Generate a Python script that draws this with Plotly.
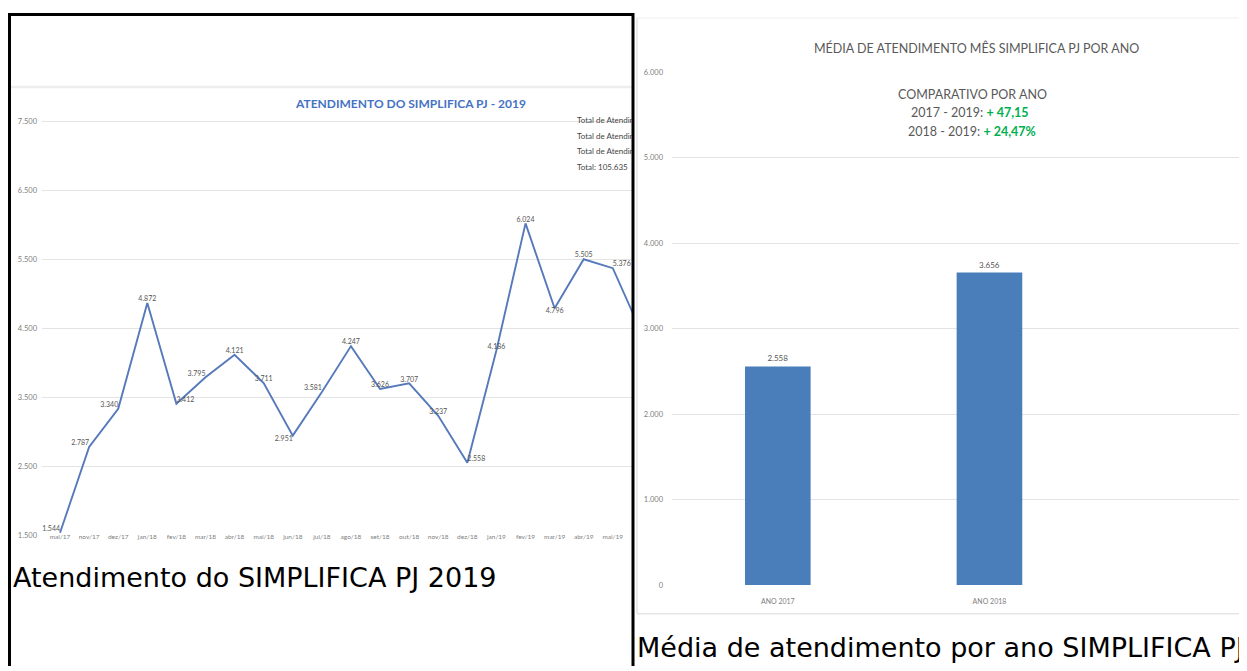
import plotly.graph_objects as go

# ---------------- data ----------------
meses = ["mai/17", "nov/17", "dez/17", "jan/18", "fev/18", "mar/18", "abr/18",
         "mai/18", "jun/18", "jul/18", "ago/18", "set/18", "out/18", "nov/18",
         "dez/18", "jan/19", "fev/19", "mar/19", "abr/19", "mai/19", "jun/19"]
atendimentos = [1544, 2787, 3340, 4872, 3412, 3795, 4121, 3711, 2951, 3581,
                4247, 3626, 3707, 3237, 2558, 4186, 6024, 4796, 5505, 5376, 4430]
posicao_rotulo = ["top left", "top left", "top left", "top center", "top right",
                  "top left", "top center", "top center", "bottom left", "top left",
                  "top center", "top center", "top center", "top center", "top right",
                  "top center", "top center", "bottom center", "top center", "top right",
                  "top center"]
# the last month lies beyond the cut-off edge of the picture: no visible label
modelo_rotulo = ["%{y:,.0f}"] * 20 + [""]
left_yticks = [1500, 2500, 3500, 4500, 5500, 6500, 7500]

# the right-hand part of these lines is cut off by the table cell
totais_texto = ["Total de Atendim", "Total de Atendim", "Total de Atendim", "Total: 105.635"]
totais_y = [7500, 7271, 7057, 6829]
totais_x = [17.77, 17.77, 17.77, 17.77]

anos = ["ANO 2017", "ANO 2018"]
media = [2558, 3656]
right_yticks = [0, 1000, 2000, 3000, 4000, 5000, 6000]

# page body has an 8px margin: the figure starts at (8, 8)
OFF = 8
W, H = 1247 - OFF, 671 - OFF
def PX(x): return (x - OFF) / W
def PY(y): return 1 - (y - OFF) / H

GRID = "#E3E3E3"
TICK = dict(family="Lato", size=7.5, color="#808080")
LINE_BLUE = "#5679BB"
BAR_BLUE = "#4A7EBB"

fig = go.Figure()

# left line chart
fig.add_trace(go.Scatter(
    x=list(range(len(atendimentos))), y=atendimentos,
    mode="lines+text", line=dict(color=LINE_BLUE, width=1.9),
    texttemplate=modelo_rotulo, textposition=posicao_rotulo,
    textfont=dict(family="Lato", size=7, color="#555555"),
    cliponaxis=True, xaxis="x", yaxis="y", showlegend=False, hoverinfo="skip"))

fig.add_trace(go.Scatter(
    x=totais_x, y=totais_y, mode="text", text=totais_texto,
    textposition="middle right",
    textfont=dict(family="Lato", size=8, color="#444444"),
    cliponaxis=True, xaxis="x", yaxis="y", showlegend=False, hoverinfo="skip"))

# right bar chart
fig.add_trace(go.Bar(
    x=anos, y=media, width=0.31, marker=dict(color=BAR_BLUE, line=dict(width=0)),
    texttemplate="%{y:,.0f}", textposition="outside",
    textfont=dict(family="Lato", size=8, color="#555555"),
    cliponaxis=False, xaxis="x2", yaxis="y2", showlegend=False, hoverinfo="skip"))

fig.update_layout(
    width=W, height=H, margin=dict(l=0, r=0, t=0, b=0),
    paper_bgcolor="white", plot_bgcolor="white",
    separators=",.",
    xaxis=dict(domain=[PX(42), PX(632)], range=[-0.62, 19.66],
               tickvals=list(range(len(meses))), ticktext=meses,
               showgrid=False, zeroline=False, showline=False, ticks="",
               tickfont=dict(family="Lato", size=6.5, color="#808080"), tickangle=0,
               ticklabelstandoff=-4),
    yaxis=dict(domain=[PY(539), PY(98)], range=[1500, 7800],
               tickvals=left_yticks, tickformat=",.0f",
               showgrid=True, gridcolor=GRID, gridwidth=1, zeroline=False,
               showline=False, ticks="", tickfont=TICK, ticklabelstandoff=4),
    xaxis2=dict(domain=[PX(672), 1.0], range=[-0.5, 2.217], type="category",
                showgrid=False, zeroline=False, showline=False, ticks="",
                tickfont=dict(family="Lato", size=7, color="#808080"), anchor="y2",
                ticklabelstandoff=11),
    yaxis2=dict(domain=[PY(589), PY(69)], range=[0, 6000],
                tickvals=right_yticks, tickformat=",.0f",
                showgrid=True, gridcolor=GRID, gridwidth=1, zeroline=False,
                showline=False, ticks="", tickfont=TICK, anchor="x2",
                ticklabelstandoff=8),
)

ann = []
# left chart title
ann.append(dict(x=PX(410), y=PY(101), xref="paper", yref="paper",
                text="<b>ATENDIMENTO DO SIMPLIFICA PJ - 2019</b>", showarrow=False,
                font=dict(family="Lato", size=12, color="#4472C4"),
                xanchor="center", yanchor="middle"))
# right chart title and comparison box
ann.append(dict(x=PX(977), y=PY(45), xref="paper", yref="paper",
                text="MÉDIA DE ATENDIMENTO MÊS SIMPLIFICA PJ POR ANO", showarrow=False,
                font=dict(family="Lato", size=12.5, color="#595959"),
                xanchor="center", yanchor="middle"))
ann.append(dict(x=PX(972), y=PY(92), xref="paper", yref="paper",
                text="COMPARATIVO POR ANO", showarrow=False,
                font=dict(family="Lato", size=12.5, color="#595959"),
                xanchor="center", yanchor="middle"))
ann.append(dict(x=PX(970), y=PY(110), xref="paper", yref="paper",
                text="2017 - 2019: <b><span style='color:#00B050'>+ 47,15</span></b>",
                showarrow=False, font=dict(family="Lato", size=12.5, color="#595959"),
                xanchor="center", yanchor="middle"))
ann.append(dict(x=PX(972), y=PY(129), xref="paper", yref="paper",
                text="2018 - 2019: <b><span style='color:#00B050'>+ 24,47%</span></b>",
                showarrow=False, font=dict(family="Lato", size=12.5, color="#595959"),
                xanchor="center", yanchor="middle"))
# captions
ann.append(dict(x=PX(11), y=PY(581), xref="paper", yref="paper",
                text="Atendimento do SIMPLIFICA PJ 2019", showarrow=False,
                font=dict(family="DejaVu Sans", size=27, color="#000000"),
                xanchor="left", yanchor="middle"))
ann.append(dict(x=PX(635), y=PY(652), xref="paper", yref="paper",
                text="Média de atendimento por ano SIMPLIFICA PJ", showarrow=False,
                font=dict(family="DejaVu Sans", size=27, color="#000000"),
                xanchor="left", yanchor="middle"))
fig.update_layout(annotations=ann)

shapes = []
# faint image frames
shapes.append(dict(type="line", xref="paper", yref="paper", x0=PX(11), x1=PX(632),
                   y0=PY(84), y1=PY(84), line=dict(color="#EDEDED", width=2.5)))
shapes.append(dict(type="line", xref="paper", yref="paper", x0=PX(637), x1=PX(637),
                   y0=PY(14), y1=PY(618), line=dict(color="#E6E6E6", width=1.5)))
shapes.append(dict(type="line", xref="paper", yref="paper", x0=PX(637), x1=1,
                   y0=PY(618), y1=PY(618), line=dict(color="#E6E6E6", width=1.5)))
shapes.append(dict(type="line", xref="paper", yref="paper", x0=PX(637), x1=1,
                   y0=PY(14), y1=PY(14), line=dict(color="#EEEEEE", width=1)))
# table borders
shapes.append(dict(type="line", xref="paper", yref="paper", x0=PX(9.5), x1=PX(9.5),
                   y0=PY(9), y1=0, line=dict(color="black", width=3)))
shapes.append(dict(type="line", xref="paper", yref="paper", x0=PX(8), x1=PX(634),
                   y0=PY(10.5), y1=PY(10.5), line=dict(color="black", width=3)))
shapes.append(dict(type="line", xref="paper", yref="paper", x0=PX(633), x1=PX(633),
                   y0=PY(9), y1=0, line=dict(color="black", width=3)))
fig.update_layout(shapes=shapes)

fig.write_html("out.html")
